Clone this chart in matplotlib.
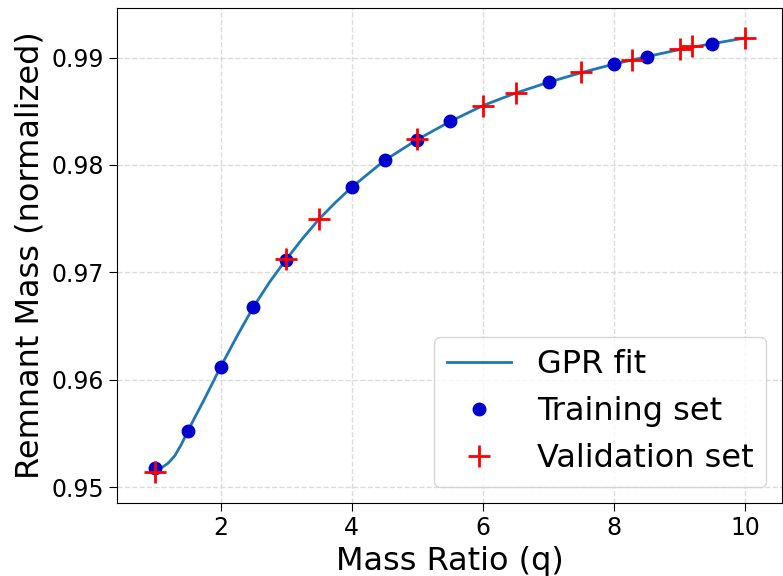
import matplotlib
matplotlib.use("Agg")
import matplotlib.pyplot as plt

# GPR fit curve
fit_q = [1.0, 1.1, 1.2, 1.3, 1.4, 1.5, 1.6, 1.75, 2.0, 2.25, 2.5, 2.75, 3.0, 3.25,
         3.5, 3.75, 4.0, 4.5, 5.0, 5.5, 6.0, 6.5, 7.0, 7.5, 8.0, 8.5, 9.0, 9.5, 10.0]
fit_m = [0.95165, 0.95180, 0.95222, 0.95290, 0.95395, 0.95521, 0.95640, 0.95815,
         0.96119, 0.96405, 0.96677, 0.96912, 0.97120, 0.97315, 0.97495, 0.97650,
         0.97793, 0.98042, 0.98237, 0.98405, 0.98553, 0.98670, 0.98770, 0.98860,
         0.98940, 0.99009, 0.99075, 0.99130, 0.99183]

# training set
train_q = [1.0, 1.5, 2.0, 2.5, 3.0, 4.0, 4.5, 5.0, 5.5, 7.0, 8.0, 8.5, 9.5]
train_m = [0.95174, 0.95521, 0.96119, 0.96677, 0.97118, 0.97793, 0.98042,
           0.98237, 0.98405, 0.98770, 0.98941, 0.99009, 0.99130]

# validation set
val_q = [1.0, 3.0, 3.5, 5.0, 6.0, 6.5, 7.5, 8.27, 9.0, 9.19, 10.0]
val_m = [0.95142, 0.97127, 0.97493, 0.98244, 0.98553, 0.98672, 0.98863,
         0.98981, 0.99081, 0.99105, 0.99185]

fig = plt.figure(figsize=(7.83, 5.76), dpi=100)
ax = fig.add_axes([117 / 783, 73 / 576, 665 / 783, 495 / 576])

ax.plot(fit_q, fit_m, color="#1f77b4", lw=2, label="GPR fit", zorder=2)
ax.plot(train_q, train_m, "o", color="#0000cd", markersize=9, label="Training set", zorder=3)
ax.plot(val_q, val_m, "+", color="red", markersize=16, mew=2, label="Validation set", zorder=4)

ax.set_xlim(0.42, 10.56)
ax.set_ylim(0.94851, 0.99462)
ax.set_xticks([2, 4, 6, 8, 10])
ax.set_yticks([0.95, 0.96, 0.97, 0.98, 0.99])
ax.tick_params(labelsize=17, length=6)

ax.set_xlabel("Mass Ratio (q)", fontsize=23)
ax.set_ylabel("Remnant Mass (normalized)", fontsize=23)
ax.grid(True, linestyle="--", color="lightgrey", alpha=0.8, lw=1)

ax.legend(loc="lower right", fontsize=23)

plt.savefig("out.png", dpi=100)
